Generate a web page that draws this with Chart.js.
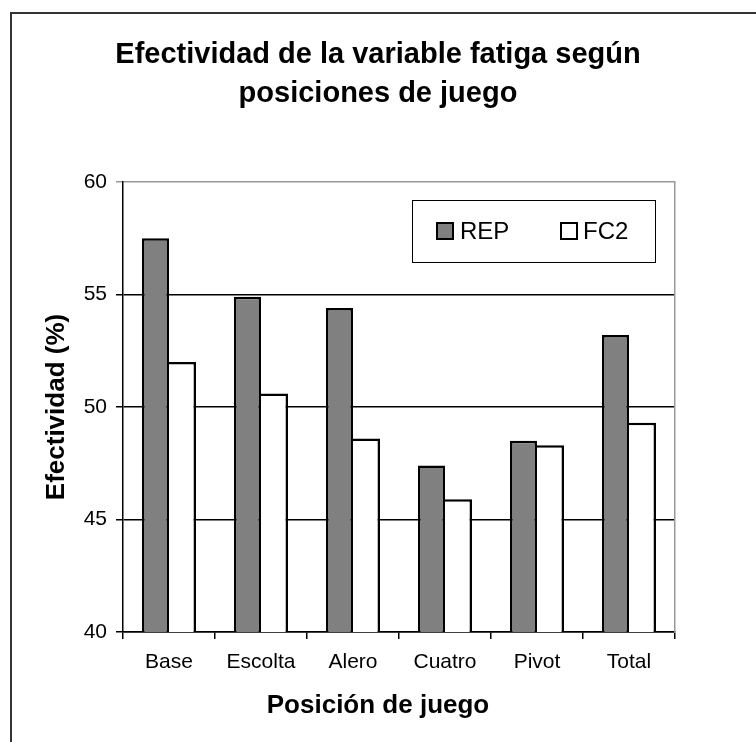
<!DOCTYPE html>
<html>
<head>
<meta charset="utf-8">
<title>Efectividad de la variable fatiga</title>
<script src="https://cdn.jsdelivr.net/npm/chart.js@4.4.0/dist/chart.umd.min.js"></script>
<style>
  body { margin: 0; background: #fff; }
  #wrap { width: 756px; height: 742px; position: relative; }
</style>
</head>
<body>
<div id="wrap"><canvas id="myChart"></canvas></div>
<script>
// Values
const posiciones = ["Base", "Escolta", "Alero", "Cuatro", "Pivot", "Total"];
const repValues = [57.5, 54.9, 54.4, 47.4, 48.5, 53.2];
const fc2Values = [52.0, 50.6, 48.6, 45.9, 48.3, 49.3];
const seriesNames = ["REP", "FC2"];
const yTicks = [40, 45, 50, 55, 60];

const fontFamily = "'Liberation Sans', Arial, sans-serif";
const seriesFill = ["#808080", "#ffffff"];

// grey for the top edge (60) like the plot border, black for the rest
function gridColor(ctx) {
  return ctx.tick && ctx.tick.value === yTicks[yTicks.length - 1] ? "#999" : "#000";
}

// white background + outer frame (goes off the right/bottom edge)
const framePlugin = {
  id: "frame",
  beforeDraw(chart) {
    const c = chart.ctx;
    c.save();
    c.fillStyle = "#fff";
    c.fillRect(0, 0, chart.width, chart.height);
    c.strokeStyle = "#333";
    c.lineWidth = 2;
    c.strokeRect(11, 13, chart.width + 40, chart.height + 40);
    c.restore();
  },
};

// legend box inside the plot, top right
const legendBoxPlugin = {
  id: "legendBox",
  afterDraw(chart) {
    const c = chart.ctx;
    const area = chart.chartArea;
    const bx = area.left + 289;
    const by = area.top + 18;
    c.save();
    c.fillStyle = "#fff";
    c.fillRect(bx, by, 243, 62);
    c.strokeStyle = "#000";
    c.lineWidth = 1;
    c.strokeRect(bx + 0.5, by + 0.5, 243, 62);

    const items = [
      { sq: bx + 24, tx: bx + 48 },
      { sq: bx + 148, tx: bx + 171 },
    ];
    c.font = "24px " + fontFamily;
    c.textBaseline = "middle";
    c.textAlign = "left";
    items.forEach((it, i) => {
      c.fillStyle = "#000";
      c.fillRect(it.sq, by + 22, 18, 18);
      c.fillStyle = seriesFill[i];
      c.fillRect(it.sq + 2, by + 24, 14, 14);
      c.fillStyle = "#000";
      c.fillText(seriesNames[i], it.tx, by + 32);
    });
    c.restore();
  },
};

// x axis title, centred on the whole picture like the original
const xTitlePlugin = {
  id: "xTitle",
  afterDraw(chart) {
    const c = chart.ctx;
    c.save();
    c.font = "bold 26px " + fontFamily;
    c.fillStyle = "#000";
    c.textAlign = "center";
    c.textBaseline = "middle";
    c.fillText("Posición de juego", chart.width / 2, 706);
    c.restore();
  },
};

const ctx = document.getElementById("myChart").getContext("2d");
const myChart = new Chart(ctx, {
  type: "bar",
  data: {
    labels: posiciones,
    datasets: [
      {
        label: seriesNames[0],
        data: repValues,
        backgroundColor: seriesFill[0],
        borderColor: "#000",
        borderWidth: 2.5,
        borderSkipped: "start",
        categoryPercentage: 0.587,
        barPercentage: 1.0,
      },
      {
        label: seriesNames[1],
        data: fc2Values,
        backgroundColor: seriesFill[1],
        borderColor: "#000",
        // left edge is shared with the REP bar, which is always taller
        borderWidth: { top: 2.5, left: 0, right: 2.5, bottom: 0 },
        borderSkipped: "start",
        categoryPercentage: 0.587,
        barPercentage: 1.0,
      },
    ],
  },
  options: {
    responsive: true,
    maintainAspectRatio: false,
    animation: false,
    layout: { padding: 0 },
    plugins: {
      legend: { display: false },
      tooltip: { enabled: false },
      title: {
        display: true,
        text: ["Efectividad de la variable fatiga según", "posiciones de juego"],
        color: "#000",
        font: { family: fontFamily, size: 29, weight: "bold", lineHeight: 1.35 },
        padding: { top: 35, bottom: 68.7 },
      },
    },
    scales: {
      x: {
        grid: {
          drawOnChartArea: false,
          drawTicks: true,
          tickLength: 7,
          color: "#000",
          lineWidth: 1.5,
        },
        border: { color: "#000", width: 1.5 },
        ticks: {
          color: "#000",
          padding: 11,
          font: { family: fontFamily, size: 21 },
        },
        afterFit(scale) {
          scale.height = 110;
        },
      },
      y: {
        min: yTicks[0],
        max: yTicks[yTicks.length - 1],
        grid: {
          color: gridColor,
          tickColor: gridColor,
          lineWidth: 1.5,
          tickLength: 7,
        },
        border: { color: "#000", width: 1.5 },
        ticks: {
          stepSize: 5,
          color: "#000",
          padding: 9,
          font: { family: fontFamily, size: 21 },
        },
        title: {
          display: true,
          text: "Efectividad (%)",
          color: "#000",
          font: { family: fontFamily, size: 26, weight: "bold" },
          padding: { top: 41, bottom: 0 },
        },
        afterFit(scale) {
          scale.width = 123;
        },
      },
      y2: {
        type: "linear",
        position: "right",
        display: true,
        grid: { drawOnChartArea: false, drawTicks: false },
        ticks: { display: false },
        border: { color: "#999", width: 1.5 },
        afterFit(scale) {
          scale.width = 81;
        },
      },
    },
  },
  plugins: [framePlugin, legendBoxPlugin, xTitlePlugin],
});
</script>
</body>
</html>
